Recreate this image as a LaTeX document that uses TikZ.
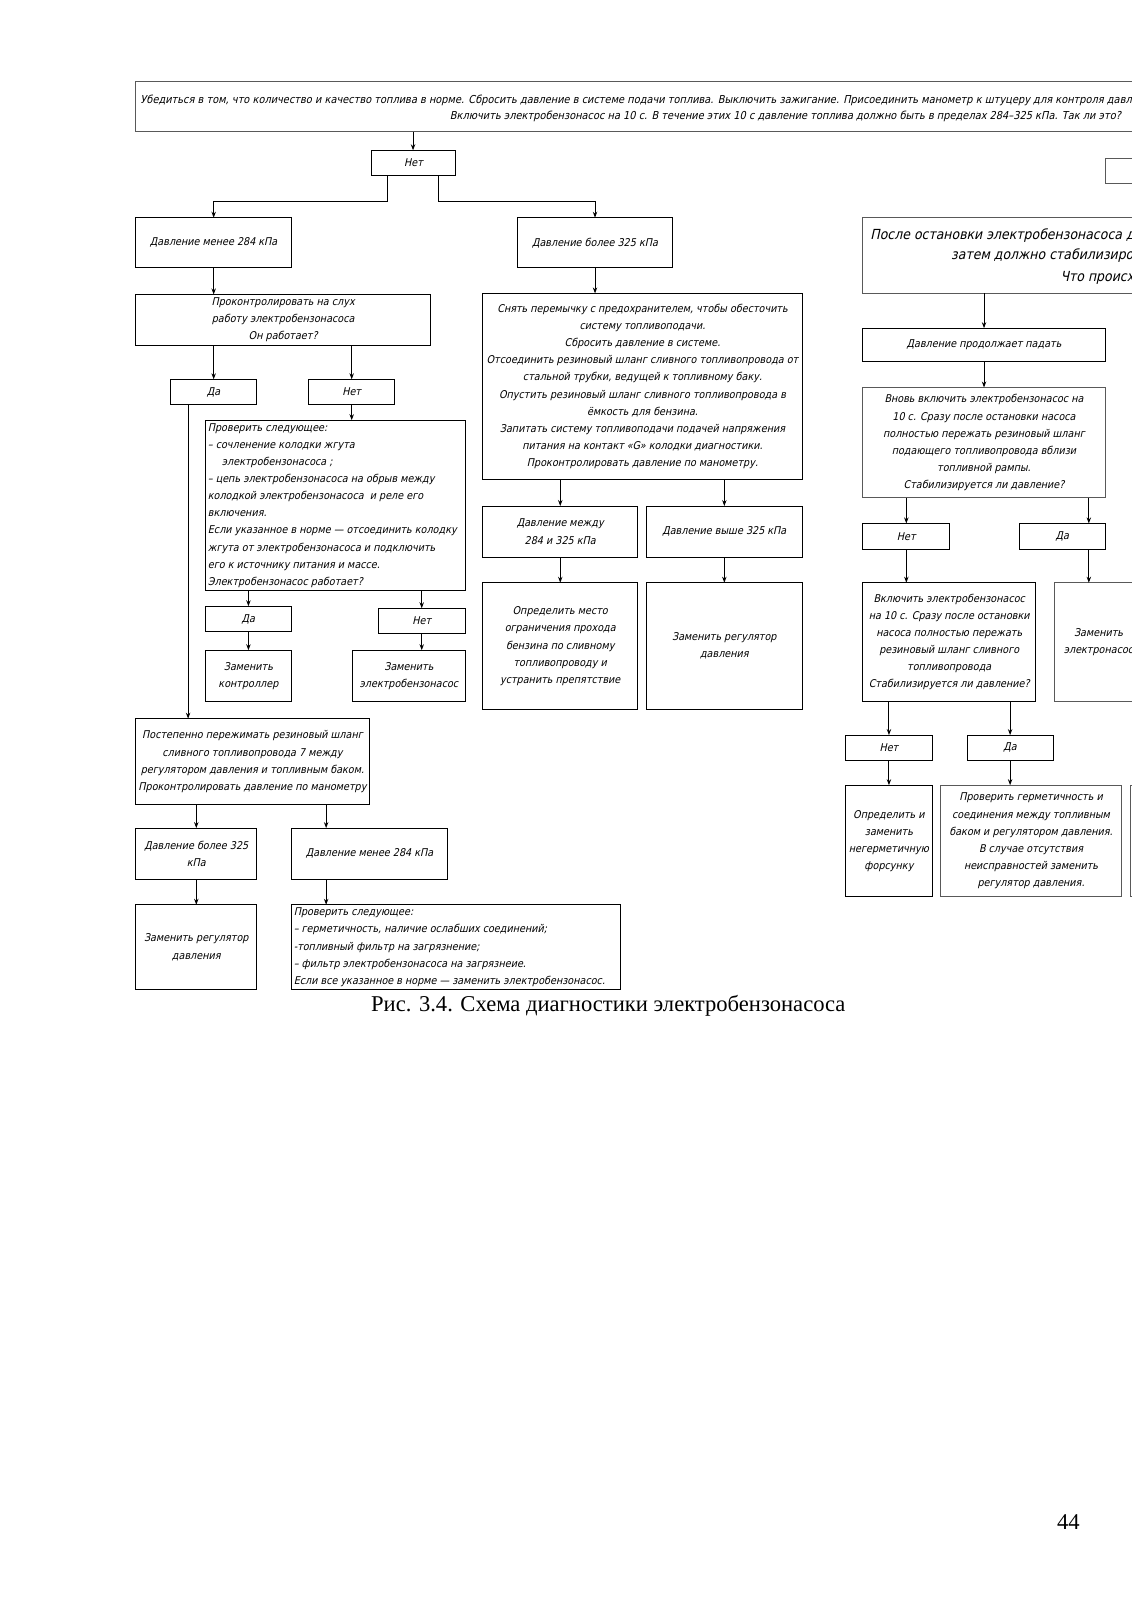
\documentclass[tikz,border=0pt]{standalone}
\usepackage{fontspec}
\setmainfont{Liberation Serif}
\newfontfamily\gf{DejaVu Sans Condensed}[FakeSlant=0.22]
\usetikzlibrary{arrows.meta}
\def\myU{0.51125}
\tikzset{
  bx/.style={draw, line width=0.5pt, inner xsep=0pt, inner ysep=1pt, outer sep=0pt,
    font={\gf\fontsize{5.35}{8.55}\selectfont}, align=center},
  gb/.style={draw=black!65},
  txt/.style={inner sep=0pt, font={\gf\fontsize{5.35}{8.55}\selectfont}},
  toptxt/.style={inner sep=0pt, font={\gf\fontsize{5.46}{8.55}\selectfont}},
  bigtxt/.style={inner sep=0pt, font={\gf\fontsize{6.95}{10.2}\selectfont}},
  arr/.style={-{Stealth[length=3pt,width=2.2pt]}, line width=0.5pt},
}
\newcommand\mybox[7][]{%
  \pgfmathsetmacro\myBw{(#5-#3)*\myU}%
  \pgfmathsetmacro\myBh{(#6-#4)*\myU}%
  \pgfmathsetmacro\myCx{(#3+#5)/2}%
  \pgfmathsetmacro\myCy{(#4+#6)/2}%
  \node[bx,minimum width=\myBw pt,minimum height=\myBh pt,#1] (#2) at (\myCx,\myCy) {#7};}
\begin{document}
\begin{tikzpicture}[x=\myU pt,y=-\myU pt]
\fill[white] (0,0) rectangle (1108,1565);
\useasboundingbox (0,0) rectangle (1107.1,1564.9);
% x reference coordinates
\foreach \xx in {184,208,243,319,345,379,404,412,429,548,582,708,869,886,962,988,1065}{\coordinate (c\xx) at (\xx,0);}
\begin{scope}
\clip (0,0) rectangle (1107.1,1564.9);
% top box
\mybox[gb]{top}{133}{80}{1300}{129}{}
\node[toptxt,anchor=base west] (t1) at (137,101) {Убедиться в том, что количество и качество топлива в норме. Сбросить давление в системе подачи топлива. Выключить зажигание. Присоединить манометр к штуцеру для контроля давления.};
\node[toptxt,anchor=base east] (t2) at (1097,117) {Включить электробензонасос на 10 с. В течение этих 10 с давление топлива должно быть в пределах 284–325 кПа. Так ли это?};
\mybox{net0}{363}{147}{446}{172}{Нет}
\mybox{pless}{133}{213}{285}{262}{Давление менее 284 кПа}
\mybox{pmore}{506}{213}{658}{262}{Давление более 325 кПа}
% left column
\mybox{listen}{133}{288}{421}{338}{Проконтролировать на слух\\работу электробензонасоса\\Он работает?}
\mybox{da1}{167}{371}{251}{396}{Да}
\mybox{net1}{302}{371}{386}{396}{Нет}
\mybox{check1}{201}{411}{455}{578}{}
\node[txt,align=left,anchor=west] (check1t) at ([xshift=1pt]check1.west) {Проверить следующее:\\– сочленение колодки жгута\\\hspace*{7pt}электробензонасоса ;\\– цепь электробензонасоса на обрыв между\\колодкой электробензонасоса\ \ и реле его\\включения.\\Если указанное в норме — отсоединить колодку\\жгута от электробензонасоса и подключить\\его к источнику питания и массе.\\Электробензонасос работает?};
\mybox{da2}{201}{593}{285}{618}{Да}
\mybox{net2}{370}{595}{455}{620}{Нет}
\mybox{ctrl}{201}{636}{285}{686}{Заменить\\контроллер}
\mybox{pump}{345}{636}{455}{686}{Заменить\\электробензонасос}
\mybox{squeeze}{133}{703}{361}{787}{Постепенно пережимать резиновый шланг\\сливного топливопровода 7 между\\регулятором давления и топливным баком.\\Проконтролировать давление по манометру}
\mybox{p325}{133}{810}{251}{860}{Давление более 325\\кПа}
\mybox{p284}{285}{810}{438}{860}{Давление менее 284 кПа}
\mybox{reg1}{133}{885}{251}{968}{Заменить регулятор\\давления}
\mybox{check2}{285}{885}{607}{968}{}
\node[txt,align=left,anchor=west] (check2t) at ([xshift=1pt]check2.west) {Проверить следующее:\\– герметичность, наличие ослабших соединений;\\-топливный фильтр на загрязнение;\\– фильтр электробензонасоса на загрязнеие.\\Если все указанное в норме — заменить электробензонасос.};
% middle column
\mybox{big}{472}{287}{785}{469}{Снять перемычку с предохранителем, чтобы обесточить\\систему топливоподачи.\\Сбросить давление в системе.\\Отсоединить резиновый шланг сливного топливопровода от\\стальной трубки, ведущей к топливному баку.\\Опустить резиновый шланг сливного топливопровода в\\ёмкость для бензина.\\Запитать систему топливоподачи подачей напряжения\\питания на контакт «G» колодки диагностики.\\Проконтролировать давление по манометру.}
\mybox{between}{472}{495}{624}{545}{Давление между\\284 и 325 кПа}
\mybox{above}{632}{495}{785}{545}{Давление выше 325 кПа}
\mybox{locate}{472}{570}{624}{694}{Определить место\\ограничения прохода\\бензина по сливному\\топливопроводу и\\устранить препятствие}
\mybox{reg2}{632}{570}{785}{694}{Заменить регулятор\\давления}
% right column
\mybox[gb]{smallr}{1081}{155}{1200}{179}{}
\mybox[gb]{after}{844}{213}{1300}{287}{}
\node[bigtxt,anchor=base west] (a1) at (851,234) {После остановки электробензонасоса давление};
\node[bigtxt,anchor=base west] (a2) at (930,254) {затем должно стабилизироваться};
\node[bigtxt,anchor=base west] (a3) at (1037,275) {Что происходит?};
\mybox{falls}{844}{321}{1081}{354}{Давление продолжает падать}
\mybox[gb]{again}{844}{379}{1081}{487}{Вновь включить электробензонасос на\\10 с. Сразу после остановки насоса\\полностью пережать резиновый шланг\\подающего топливопровода вблизи\\топливной рампы.\\Стабилизируется ли давление?}
\mybox{net3}{844}{512}{929}{537}{Нет}
\mybox{da3}{997}{512}{1081}{537}{Да}
\mybox{incl}{844}{570}{1013}{686}{Включить электробензонасос\\на 10 с. Сразу после остановки\\насоса полностью пережать\\резиновый шланг сливного\\топливопровода\\Стабилизируется ли давление?}
\mybox[gb]{repl}{1031}{570}{1118}{686}{Заменить\\электронасос}
\mybox{net4}{827}{719}{912}{744}{Нет}
\mybox{da4}{946}{719}{1030}{744}{Да}
\mybox{inj}{827}{768}{912}{877}{Определить и\\заменить\\негерметичную\\форсунку}
\mybox[gb]{seal}{920}{768}{1097}{877}{Проверить герметичность и\\соединения между топливным\\баком и регулятором давления.\\В случае отсутствия\\неисправностей заменить\\регулятор давления.}
\mybox[gb]{extra}{1106}{768}{1300}{877}{}
% connectors
\draw[arr] (top.south -| c404) -- (net0.north -| c404);
\draw[arr] (net0.south -| c379) -- ++(0,25) -| (pless.north);
\draw[arr] (net0.south -| c429) -- ++(0,25) -| (pmore.north);
\draw[arr] (pless.south) -- (listen.north -| pless.south);
\draw[arr] (pmore.south) -- (big.north -| pmore.south);
\draw[arr] (listen.south -| da1.north) -- (da1.north);
\draw[arr] (listen.south -| net1.north) -- (net1.north);
\draw[arr] (da1.south -| c184) -- (squeeze.north -| c184);
\draw[arr] (net1.south) -- (check1.north -| net1.south);
\draw[arr] (check1.south -| da2.north) -- (da2.north);
\draw[arr] (check1.south -| net2.north) -- (net2.north);
\draw[arr] (da2.south) -- (ctrl.north -| da2.south);
\draw[arr] (net2.south) -- (pump.north -| net2.south);
\draw[arr] (squeeze.south -| p325.north) -- (p325.north);
\draw[arr] (squeeze.south -| c319) -- (p284.north -| c319);
\draw[arr] (p325.south) -- (reg1.north -| p325.south);
\draw[arr] (p284.south -| c319) -- (check2.north -| c319);
\draw[arr] (big.south -| between.north) -- (between.north);
\draw[arr] (big.south -| above.north) -- (above.north);
\draw[arr] (between.south) -- (locate.north -| between.south);
\draw[arr] (above.south) -- (reg2.north -| above.south);
\draw[arr] (after.south -| falls.north) -- (falls.north);
\draw[arr] (falls.south) -- (again.north -| falls.south);
\draw[arr] (again.south -| net3.north) -- (net3.north);
\draw[arr] (again.south -| c1065) -- (da3.north -| c1065);
\draw[arr] (net3.south) -- (incl.north -| net3.south);
\draw[arr] (da3.south -| c1065) -- (repl.north -| c1065);
\draw[arr] (incl.south -| net4.north) -- (net4.north);
\draw[arr] (incl.south -| da4.north) -- (da4.north);
\draw[arr] (net4.south) -- (inj.north -| net4.south);
\draw[arr] (da4.south) -- (seal.north -| da4.south);
\end{scope}
% caption and page number
\node[inner sep=0pt,anchor=base,font=\fontsize{11.3}{13}\selectfont] (cap) at (595,989) {Рис. 3.4. Схема диагностики электробензонасоса};
\node[inner sep=0pt,anchor=base,font=\fontsize{11.3}{13}\selectfont] (pg) at (1045,1496) {44};
\end{tikzpicture}
\end{document}
